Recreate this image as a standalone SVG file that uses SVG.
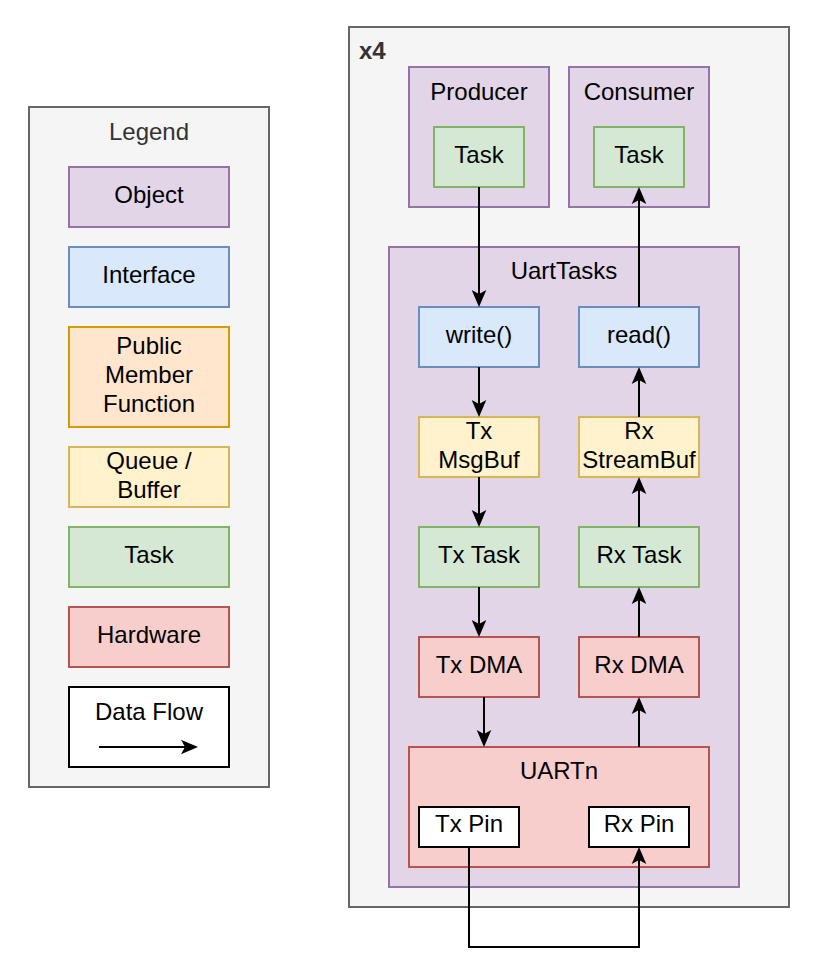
<svg xmlns="http://www.w3.org/2000/svg" width="818" height="980" viewBox="0 0 818 980">
<style>
text{font-family:"Liberation Sans",Arial,Helvetica,sans-serif;font-size:24px;fill:#000;text-anchor:middle}
.cont{fill:#f5f5f5;stroke:#666666;stroke-width:2}
.obj{fill:#e1d5e7;stroke:#9673a6;stroke-width:2}
.itf{fill:#dae8fc;stroke:#6c8ebf;stroke-width:2}
.pmf{fill:#ffe6cc;stroke:#d79b00;stroke-width:2}
.buf{fill:#fff2cc;stroke:#d6b656;stroke-width:2}
.task{fill:#d5e8d4;stroke:#82b366;stroke-width:2}
.hw{fill:#f8cecc;stroke:#b85450;stroke-width:2}
.plain{fill:#ffffff;stroke:#000000;stroke-width:2}
.grey{fill:#333333}
.edge{fill:none;stroke:#000;stroke-width:2;marker-end:url(#arr)}
</style>
<defs>
<marker id="arr" viewBox="-18 -8 19 16" refX="-10" refY="0" markerWidth="19" markerHeight="16" markerUnits="userSpaceOnUse" orient="auto">
<path d="M0,0 L-17,-7.3 L-13,0 L-17,7.3 Z" fill="#000"/>
</marker>
</defs>
<rect width="818" height="980" fill="#ffffff"/>

<g id="legend">
<rect class="cont" x="29" y="107" width="240" height="680"/>
<text class="grey" x="149" y="140">Legend</text>
</g>
<g id="legend-object"><rect class="obj" x="69" y="167" width="160" height="60"/><text x="149" y="203">Object</text></g>
<g id="legend-interface"><rect class="itf" x="69" y="247" width="160" height="60"/><text x="149" y="283">Interface</text></g>
<g id="legend-pmf"><rect class="pmf" x="69" y="327" width="160" height="100"/><text x="149" y="354">Public</text><text x="149" y="383">Member</text><text x="149" y="412">Function</text></g>
<g id="legend-queue"><rect class="buf" x="69" y="447" width="160" height="60"/><text x="149" y="469">Queue /</text><text x="149" y="498">Buffer</text></g>
<g id="legend-task"><rect class="task" x="69" y="527" width="160" height="60"/><text x="149" y="563">Task</text></g>
<g id="legend-hardware"><rect class="hw" x="69" y="607" width="160" height="60"/><text x="149" y="643">Hardware</text></g>
<g id="legend-dataflow"><rect class="plain" x="69" y="687" width="160" height="80"/><text x="149" y="720">Data Flow</text><line class="edge" x1="99" y1="747" x2="188" y2="747"/></g>

<g id="x4">
<rect class="cont" x="349" y="27" width="440" height="880"/>
<text class="grey" x="359" y="59" style="text-anchor:start;font-weight:bold">x4</text>
</g>

<g id="producer"><rect class="obj" x="409" y="67" width="140" height="140"/><text x="479" y="100">Producer</text></g>
<g id="producer-task"><rect class="task" x="434" y="127" width="90" height="60"/><text x="479" y="163">Task</text></g>
<g id="consumer"><rect class="obj" x="569" y="67" width="140" height="140"/><text x="639" y="100">Consumer</text></g>
<g id="consumer-task"><rect class="task" x="594" y="127" width="90" height="60"/><text x="639" y="163">Task</text></g>

<g id="uarttasks"><rect class="obj" x="389" y="247" width="350" height="640"/><text x="564" y="279">UartTasks</text></g>
<g id="write"><rect class="itf" x="419" y="307" width="120" height="60"/><text x="479" y="343">write()</text></g>
<g id="read"><rect class="itf" x="579" y="307" width="120" height="60"/><text x="639" y="343">read()</text></g>
<g id="tx-msgbuf"><rect class="buf" x="419" y="417" width="120" height="60"/><text x="479" y="439">Tx</text><text x="479" y="468">MsgBuf</text></g>
<g id="rx-streambuf"><rect class="buf" x="579" y="417" width="120" height="60"/><text x="639" y="439">Rx</text><text x="639" y="468">StreamBuf</text></g>
<g id="tx-task"><rect class="task" x="419" y="527" width="120" height="60"/><text x="479" y="563">Tx Task</text></g>
<g id="rx-task"><rect class="task" x="579" y="527" width="120" height="60"/><text x="639" y="563">Rx Task</text></g>
<g id="tx-dma"><rect class="hw" x="419" y="637" width="120" height="60"/><text x="479" y="673">Tx DMA</text></g>
<g id="rx-dma"><rect class="hw" x="579" y="637" width="120" height="60"/><text x="639" y="673">Rx DMA</text></g>
<g id="uartn"><rect class="hw" x="409" y="747" width="300" height="120"/><text x="559" y="779">UARTn</text></g>
<g id="tx-pin"><rect class="plain" x="419" y="807" width="100" height="40"/><text x="469" y="832">Tx Pin</text></g>
<g id="rx-pin"><rect class="plain" x="589" y="807" width="100" height="40"/><text x="639" y="832">Rx Pin</text></g>

<g id="connectors">
<line class="edge" x1="479" y1="187" x2="479" y2="297"/>
<line class="edge" x1="639" y1="307" x2="639" y2="197"/>
<line class="edge" x1="479" y1="367" x2="479" y2="407"/>
<line class="edge" x1="479" y1="477" x2="479" y2="517"/>
<line class="edge" x1="479" y1="587" x2="479" y2="627"/>
<line class="edge" x1="484" y1="697" x2="484" y2="737"/>
<line class="edge" x1="639" y1="747" x2="639" y2="707"/>
<line class="edge" x1="639" y1="637" x2="639" y2="597"/>
<line class="edge" x1="639" y1="527" x2="639" y2="487"/>
<line class="edge" x1="639" y1="417" x2="639" y2="377"/>
<path class="edge" d="M469,847 V947 H639 V857"/>
</g>
</svg>
